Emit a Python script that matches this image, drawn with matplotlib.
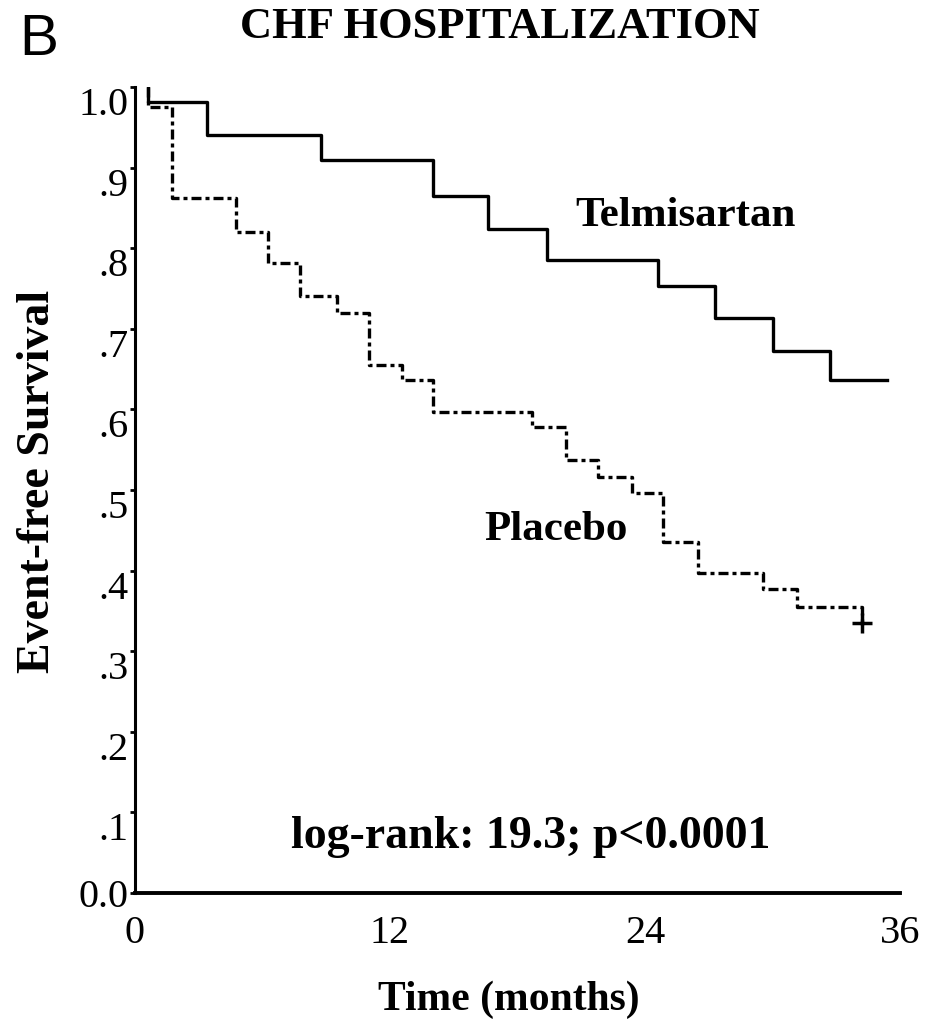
import matplotlib
matplotlib.use("Agg")
import matplotlib.pyplot as plt

# Kaplan-Meier steps (months, event-free survival)
telmi_t = [0.6, 0.6, 3.4, 8.75, 14.0, 16.6, 19.4, 24.6, 27.3, 30.0, 32.7, 35.4]
telmi_s = [1.0, 0.981, 0.940, 0.909, 0.865, 0.824, 0.785, 0.753, 0.713, 0.672, 0.636, 0.636]

placebo_t = [0.6, 0.6, 1.75, 4.75, 6.25, 7.75, 9.5, 11.0, 12.55, 14.0, 18.7,
             20.3, 21.8, 23.4, 24.85, 26.5, 29.55, 31.15, 34.2]
placebo_s = [1.0, 0.975, 0.862, 0.820, 0.782, 0.741, 0.720, 0.655, 0.636, 0.597, 0.578,
             0.537, 0.516, 0.496, 0.435, 0.397, 0.377, 0.355, 0.335]
censor_t = [34.2]
censor_s = [0.335]

x_ticks = [0, 12, 24, 36]
y_ticks = [0.0, 0.1, 0.2, 0.3, 0.4, 0.5, 0.6, 0.7, 0.8, 0.9, 1.0]
y_labels = ["0.0", ".1", ".2", ".3", ".4", ".5", ".6", ".7", ".8", ".9", "1.0"]

plt.rcParams["font.family"] = ["Liberation Serif", "DejaVu Serif"]

fig = plt.figure(figsize=(9.26, 10.22), dpi=100)
ax = fig.add_axes([135 / 926, 129 / 1022, 765 / 926, 806 / 1022])

ax.step(telmi_t, telmi_s, where="post", color="black", lw=2.4)
ax.step(placebo_t, placebo_s, where="post", color="black", lw=2.4,
        linestyle=(0, (3, 1.2, 1.2, 1.2)))
ax.plot(censor_t, censor_s, marker="+", color="black", ms=14, mew=2.5, ls="none")

ax.set_xlim(0, 36)
ax.set_ylim(0, 1.0)
ax.spines["top"].set_visible(False)
ax.spines["right"].set_visible(False)
ax.spines["left"].set_linewidth(2.2)
ax.spines["bottom"].set_linewidth(2.8)

ax.set_xticks(x_ticks)
ax.set_xticklabels([str(t) for t in x_ticks], fontsize=29)
ax.tick_params(axis="x", length=0, pad=16)
ax.set_yticks(y_ticks)
ax.set_yticklabels(y_labels, fontsize=29)
ax.tick_params(axis="y", direction="out", length=3.5, width=2, pad=1)
ylabs = ax.get_yticklabels()
for lab in ylabs[1:]:
    lab.set_va("top")

ax.set_ylabel("Event-free Survival", fontsize=33, fontweight="bold", va="center")
ax.yaxis.set_label_coords(-0.127, 0.511)
ax.set_xlabel("Time (months)", fontsize=30, fontweight="bold", va="center")
ax.xaxis.set_label_coords(0.489, -0.133)

ax.text(25.9, 0.84, "Telmisartan", fontsize=31, fontweight="bold", ha="center", va="center")
ax.text(19.8, 0.45, "Placebo", fontsize=31, fontweight="bold", ha="center", va="center")
ax.text(18.6, 0.069, "log-rank: 19.3; p<0.0001", fontsize=33, fontweight="bold",
        ha="center", va="center")

fig.text(500 / 926, 1 - 27 / 1022, "CHF HOSPITALIZATION", fontsize=32, fontweight="bold",
         ha="center", va="center")
fig.text(19 / 926, 1 - 13 / 1022, "B", fontsize=42, family="Liberation Sans",
         ha="left", va="top")

fig.savefig("out.png", dpi=100, facecolor="white")
